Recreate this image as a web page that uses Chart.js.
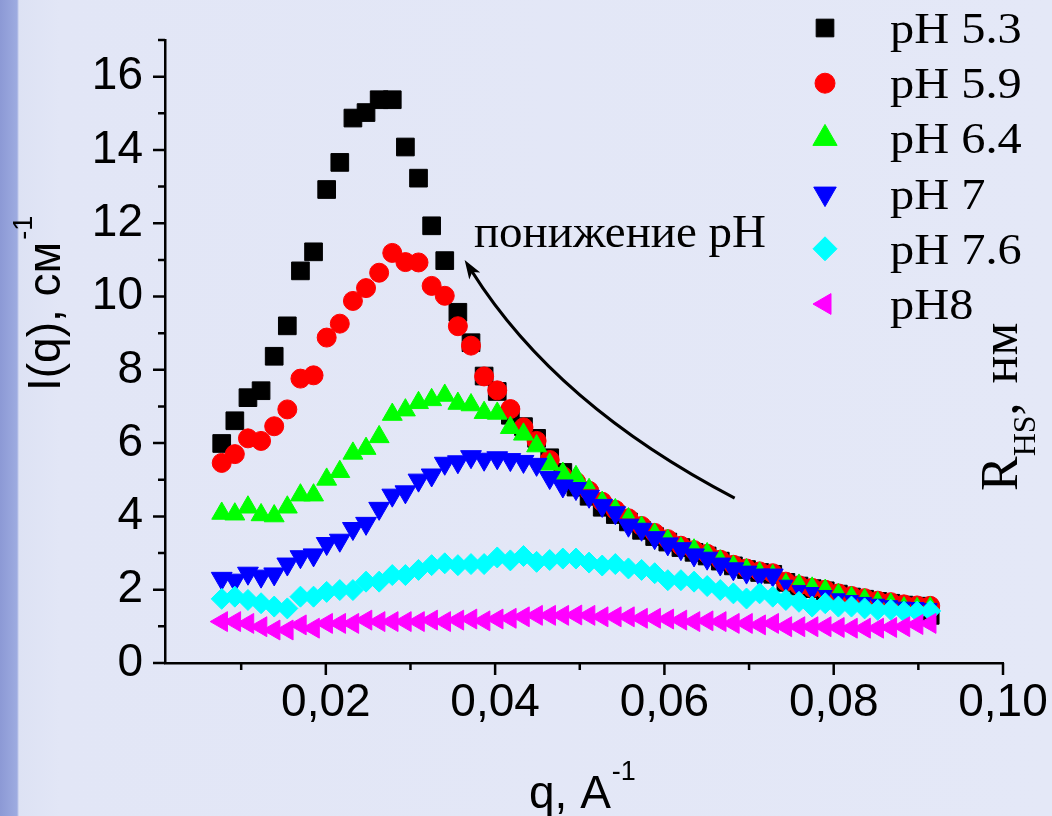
<!DOCTYPE html>
<html>
<head>
<meta charset="utf-8">
<script src="https://cdn.jsdelivr.net/npm/chart.js@4.4.0/dist/chart.umd.min.js"></script>
<style>
    html, body { margin: 0; padding: 0; }
    body {
        width: 1052px;
        height: 816px;
        overflow: hidden;
        background: linear-gradient(to right, #8c99d5 0px, #9dabe0 17px, #dde2f4 19px, #e2e6f6 60px, #e4e8f7 100%);
    }
    #wrap { position: relative; width: 1052px; height: 816px; }
</style>
</head>
<body>
<div id="wrap"><canvas id="chart"></canvas></div>
<script>
(function() {
    // q, A^-1
    const qValues = [0.00770, 0.00925, 0.01080, 0.01235, 0.01390, 0.01545, 0.01700, 0.01855, 0.02010, 0.02165,
        0.02320, 0.02475, 0.02630, 0.02785, 0.02940, 0.03095, 0.03250, 0.03405, 0.03560, 0.03715,
        0.03870, 0.04025, 0.04180, 0.04335, 0.04490, 0.04645, 0.04800, 0.04955, 0.05110, 0.05265,
        0.05420, 0.05575, 0.05730, 0.05885, 0.06040, 0.06195, 0.06350, 0.06505, 0.06660, 0.06815,
        0.06970, 0.07125, 0.07280, 0.07435, 0.07590, 0.07745, 0.07900, 0.08055, 0.08210, 0.08365,
        0.08520, 0.08675, 0.08830, 0.08985, 0.09140];

    // I(q), cm^-1
    const pH53 = [5.99, 6.61, 7.24, 7.43, 8.37, 9.20, 10.70, 11.22, 12.92, 13.66,
        14.87, 15.02, 15.37, 15.37, 14.08, 13.23, 11.93, 10.98, 9.57, 8.74,
        7.83, 7.41, 6.76, 6.45, 6.13, 5.60, 5.20, 4.80, 4.55, 4.25,
        4.05, 3.85, 3.62, 3.45, 3.30, 3.15, 3.02, 2.92, 2.78, 2.65,
        2.55, 2.47, 2.42, 2.20, 2.10, 2.03, 1.97, 1.88, 1.80, 1.74,
        1.68, 1.63, 1.58, 1.55, 1.30];
    const pH59 = [5.46, 5.70, 6.13, 6.06, 6.46, 6.92, 7.76, 7.85, 8.88, 9.26,
        9.88, 10.23, 10.65, 11.19, 10.94, 10.93, 10.29, 10.02, 9.19, 8.66,
        7.82, 7.44, 6.93, 6.43, 6.06, 5.54, 5.10, 4.95, 4.70, 4.40,
        4.18, 3.95, 3.74, 3.55, 3.38, 3.20, 3.08, 2.98, 2.82, 2.68,
        2.58, 2.50, 2.45, 2.22, 2.12, 2.05, 2.00, 1.90, 1.83, 1.77,
        1.70, 1.66, 1.60, 1.57, 1.56];
    const pH64 = [4.08, 4.06, 4.25, 4.04, 4.01, 4.25, 4.58, 4.58, 5.01, 5.22,
        5.72, 5.85, 6.17, 6.78, 6.90, 7.10, 7.18, 7.30, 7.08, 7.04,
        6.83, 6.81, 6.42, 6.24, 5.92, 5.42, 5.17, 5.08, 4.85, 4.50,
        4.30, 4.05, 3.82, 3.63, 3.46, 3.25, 3.20, 3.10, 2.90, 2.75,
        2.66, 2.57, 2.50, 2.26, 2.24, 2.16, 2.10, 1.98, 1.90, 1.84,
        1.76, 1.72, 1.62, 1.60, 1.62];
    const pH70 = [2.31, 2.26, 2.45, 2.37, 2.43, 2.70, 2.90, 2.95, 3.26, 3.35,
        3.67, 3.81, 4.22, 4.58, 4.67, 4.99, 5.13, 5.45, 5.49, 5.63,
        5.56, 5.60, 5.55, 5.50, 5.42, 5.06, 4.83, 4.76, 4.55, 4.30,
        4.10, 3.76, 3.65, 3.42, 3.25, 3.12, 2.95, 2.86, 2.70, 2.57,
        2.48, 2.40, 2.40, 2.15, 2.00, 1.95, 1.87, 1.78, 1.73, 1.68,
        1.63, 1.59, 1.55, 1.54, 1.51];
    const pH76 = [1.75, 1.81, 1.72, 1.63, 1.54, 1.49, 1.81, 1.81, 1.94, 1.99,
        1.99, 2.22, 2.22, 2.40, 2.40, 2.54, 2.67, 2.72, 2.67, 2.70,
        2.70, 2.88, 2.80, 2.92, 2.76, 2.81, 2.85, 2.85, 2.74, 2.66,
        2.70, 2.58, 2.54, 2.45, 2.26, 2.26, 2.22, 2.10, 1.99, 1.90,
        1.76, 1.90, 1.81, 1.72, 1.67, 1.54, 1.63, 1.54, 1.54, 1.49,
        1.45, 1.45, 1.40, 1.40, 1.42];
    const pH80 = [1.13, 1.13, 1.08, 0.99, 0.90, 0.90, 1.04, 0.95, 1.08, 1.08,
        1.08, 1.17, 1.13, 1.13, 1.13, 1.13, 1.17, 1.13, 1.17, 1.20,
        1.15, 1.20, 1.22, 1.26, 1.30, 1.30, 1.30, 1.31, 1.30, 1.26,
        1.26, 1.26, 1.22, 1.22, 1.20, 1.17, 1.13, 1.15, 1.13, 1.08,
        1.08, 1.04, 1.08, 0.99, 0.99, 0.99, 0.99, 0.97, 0.95, 0.95,
        0.95, 0.97, 0.99, 1.05, 1.08];

    const seriesLabels = ["pH 5.3", "pH 5.9", "pH 6.4", "pH 7", "pH 7.6", "pH8"];

    const xTickValues = [0.01, 0.02, 0.03, 0.04, 0.05, 0.06, 0.07, 0.08, 0.09, 0.10];
    const xTickLabels = ["", "0,02", "", "0,04", "", "0,06", "", "0,08", "", "0,10"];
    const yTickValues = [0, 1, 2, 3, 4, 5, 6, 7, 8, 9, 10, 11, 12, 13, 14, 15, 16, 17];
    const yTickLabels = ["0", "", "2", "", "4", "", "6", "", "8", "", "10", "", "12", "", "14", "", "16", ""];

    const SANS = '"Liberation Sans", Arial, sans-serif';
    const SERIF = '"Liberation Serif", "Times New Roman", serif';

    function points(values) {
        return values.map((v, i) => ({ x: qValues[i], y: v }));
    }

    function markerSet(label, values, color, style, rotation, radius, order) {
        return {
            label: label,
            data: points(values),
            pointStyle: style,
            pointRotation: rotation,
            pointRadius: radius,
            pointHoverRadius: radius,
            pointBackgroundColor: color,
            pointBorderColor: color,
            pointBorderWidth: 1,
            backgroundColor: color,
            borderColor: color,
            order: order
        };
    }

    const datasets = [
        markerSet(seriesLabels[0], pH53, "#000000", "rect", 0, 12.5, 5),
        markerSet(seriesLabels[1], pH59, "#ff0000", "circle", 0, 9.5, 4),
        markerSet(seriesLabels[2], pH64, "#00ff00", "triangle", 0, (c) => c.dataIndex > 27 ? 7 : 11.5, 3),
        markerSet(seriesLabels[3], pH70, "#0000ff", "triangle", 180, (c) => c.dataIndex > 42 ? 8 : 12, 2),
        markerSet(seriesLabels[4], pH76, "#00ffff", "rectRot", 0, 10.5, 1),
        markerSet(seriesLabels[5], pH80, "#ff00ff", "triangle", 270, 11.5, 0)
    ];

    // tick marks: long where a label sits, short otherwise
    const axisTicks = {
        id: "axisTicks",
        afterDraw(chart) {
            const { ctx, chartArea } = chart;
            const x = chart.scales.x, y = chart.scales.y;
            ctx.save();
            ctx.strokeStyle = "#000";
            ctx.lineWidth = 2.5;
            ctx.beginPath();
            xTickValues.forEach((v, i) => {
                const px = x.getPixelForValue(v);
                const len = xTickLabels[i] ? 12 : 7;
                ctx.moveTo(px, chartArea.bottom);
                ctx.lineTo(px, chartArea.bottom + len);
            });
            yTickValues.forEach((v, i) => {
                const py = y.getPixelForValue(v);
                const len = yTickLabels[i] ? 12 : 7;
                ctx.moveTo(chartArea.left - len, py);
                ctx.lineTo(chartArea.left, py);
            });
            ctx.stroke();
            ctx.restore();
        }
    };

    const arrowPath = { start: [0.0683, 4.5], control: [0.0472, 7.04], end: [0.0364, 11.0] };
    const noteText = "понижение pH";
    const notePos = [0.0375, 11.35];

    const annotations = {
        id: "annotations",
        afterDraw(chart) {
            const { ctx } = chart;
            const x = chart.scales.x, y = chart.scales.y;
            const p0 = [x.getPixelForValue(arrowPath.start[0]), y.getPixelForValue(arrowPath.start[1])];
            const c = [x.getPixelForValue(arrowPath.control[0]), y.getPixelForValue(arrowPath.control[1])];
            const p2 = [x.getPixelForValue(arrowPath.end[0]), y.getPixelForValue(arrowPath.end[1])];
            const dx = p2[0] - c[0], dy = p2[1] - c[1];
            const d = Math.hypot(dx, dy);
            const ux = dx / d, uy = dy / d;
            const headLen = 19, headHalf = 6.5;

            ctx.save();
            ctx.strokeStyle = "#000";
            ctx.fillStyle = "#000";
            ctx.lineWidth = 3;
            ctx.beginPath();
            ctx.moveTo(p0[0], p0[1]);
            ctx.quadraticCurveTo(c[0], c[1], p2[0] - ux * headLen * 0.7, p2[1] - uy * headLen * 0.7);
            ctx.stroke();
            ctx.beginPath();
            ctx.moveTo(p2[0], p2[1]);
            ctx.lineTo(p2[0] - ux * headLen - uy * headHalf, p2[1] - uy * headLen + ux * headHalf);
            ctx.lineTo(p2[0] - ux * headLen * 0.75, p2[1] - uy * headLen * 0.75);
            ctx.lineTo(p2[0] - ux * headLen + uy * headHalf, p2[1] - uy * headLen - ux * headHalf);
            ctx.closePath();
            ctx.fill();

            ctx.font = "47px " + SERIF;
            ctx.textAlign = "left";
            ctx.textBaseline = "alphabetic";
            ctx.fillText(noteText, x.getPixelForValue(notePos[0]), y.getPixelForValue(notePos[1]));
            ctx.restore();
        }
    };

    const legendBox = {
        id: "legendBox",
        afterDraw(chart) {
            const { ctx } = chart;
            const legendRadius = [12.5, 10, 14, 13, 12, 12];
            ctx.save();
            chart.data.datasets.forEach((ds, i) => {
                const cy = 28 + i * 55.2;
                ctx.fillStyle = ds.pointBackgroundColor;
                ctx.strokeStyle = ds.pointBorderColor;
                ctx.lineWidth = 1;
                Chart.helpers.drawPoint(ctx, {
                    pointStyle: ds.pointStyle,
                    rotation: ds.pointRotation,
                    radius: legendRadius[i],
                    borderWidth: 1
                }, 825, cy);
                ctx.save();
                ctx.translate(890, cy + 15);
                ctx.scale(1.1, 1);
                ctx.fillStyle = "#000";
                ctx.font = "44px " + SERIF;
                ctx.textAlign = "left";
                ctx.textBaseline = "alphabetic";
                ctx.fillText(ds.label, 0, 0);
                ctx.restore();
            });
            ctx.restore();
        }
    };

    const axisTitles = {
        id: "axisTitles",
        afterDraw(chart) {
            const { ctx } = chart;
            ctx.save();
            ctx.fillStyle = "#000";
            ctx.textAlign = "left";
            ctx.textBaseline = "alphabetic";

            // x title
            ctx.font = "46px " + SANS;
            ctx.fillText("q, A", 529, 808);
            const xw = ctx.measureText("q, A").width;
            ctx.font = "27px " + SANS;
            ctx.fillText("-1", 529 + xw + 1, 780);

            // y title
            ctx.save();
            ctx.translate(60, 391);
            ctx.rotate(-Math.PI / 2);
            ctx.font = "46px " + SANS;
            ctx.fillText("I(q), см", 0, 0);
            const w = ctx.measureText("I(q), см").width;
            ctx.font = "27px " + SANS;
            ctx.fillText("-1", w + 2, -28);
            ctx.restore();

            // right side label
            ctx.save();
            ctx.translate(1017, 491);
            ctx.rotate(-Math.PI / 2);
            ctx.font = "52px " + SERIF;
            ctx.fillText("R", 0, 0);
            let u = ctx.measureText("R").width;
            ctx.font = "32px " + SERIF;
            ctx.fillText("HS", u, 18);
            u += ctx.measureText("HS").width;
            ctx.font = "52px " + SERIF;
            ctx.fillText(",", u, 0);
            u += ctx.measureText(", ").width + 6;
            ctx.fillText("нм", u, 0);
            ctx.restore();

            ctx.restore();
        }
    };

    function dropScalePadding(scale) {
        scale.paddingTop = 0;
        scale.paddingBottom = 0;
        scale.paddingLeft = 0;
        scale.paddingRight = 0;
    }

    new Chart(document.getElementById("chart"), {
        type: "scatter",
        data: { datasets: datasets },
        options: {
            responsive: true,
            maintainAspectRatio: false,
            animation: false,
            events: [],
            layout: { padding: { top: 40, right: 49, left: 0, bottom: 0 } },
            plugins: {
                legend: { display: false },
                tooltip: { enabled: false }
            },
            scales: {
                x: {
                    type: "linear",
                    min: 0.001,
                    max: 0.10,
                    afterBuildTicks: (scale) => { scale.ticks = xTickValues.map((v) => ({ value: v })); },
                    afterFit: (scale) => { scale.height = 153; dropScalePadding(scale); },
                    grid: { display: false, drawTicks: false },
                    border: { display: true, color: "#000", width: 2.5 },
                    ticks: {
                        autoSkip: false,
                        maxRotation: 0,
                        padding: 13,
                        color: "#000",
                        font: { family: SANS, size: 46 },
                        callback: (value, index) => xTickLabels[index]
                    }
                },
                y: {
                    type: "linear",
                    min: 0,
                    max: 17,
                    afterBuildTicks: (scale) => { scale.ticks = yTickValues.map((v) => ({ value: v })); },
                    afterFit: (scale) => { scale.width = 165; dropScalePadding(scale); },
                    grid: { display: false, drawTicks: false },
                    border: { display: true, color: "#000", width: 2.5 },
                    ticks: {
                        autoSkip: false,
                        padding: 22,
                        color: "#000",
                        font: { family: SANS, size: 46 },
                        callback: (value, index) => yTickLabels[index]
                    }
                }
            }
        },
        plugins: [axisTicks, annotations, legendBox, axisTitles]
    });
})();
</script>
</body>
</html>
